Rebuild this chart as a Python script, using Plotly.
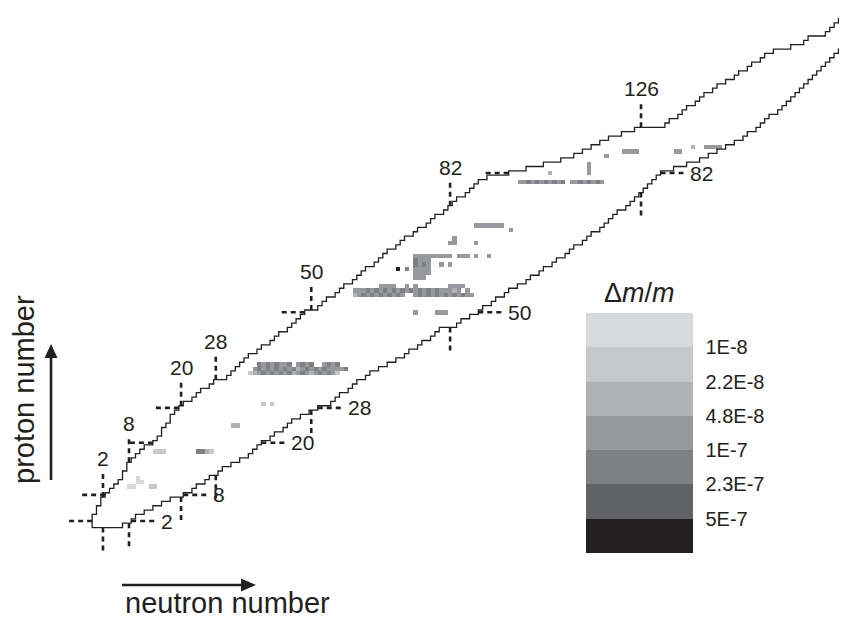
import numpy as np
import plotly.graph_objects as go

# ---------------- data ----------------
# proton-rich edge of the chart: lightest neutron number drawn for Z = 1..120
n_min = [0, 0, 0, 1, 1, 2, 2, 3, 4,
         5, 6, 7, 7, 8, 8, 9, 10, 11, 12,
         14, 15, 16, 16, 17, 18, 18, 19, 20, 21,
         23, 24, 25, 27, 28, 31, 32, 33, 34, 35,
         36, 38, 39, 41, 42, 43, 45, 46, 47, 48,
         49, 52, 53, 54, 56, 57, 58, 60, 61, 62,
         63, 65, 66, 67, 68, 70, 71, 72, 74, 75,
         77, 78, 79, 81, 82, 83, 84, 86, 87, 88,
         89, 91, 96, 100, 104, 108, 111, 113, 115, 117,
         119, 122, 125, 132, 133, 135, 136, 137, 139, 140,
         141, 143, 144, 146, 148, 149, 151, 152, 154, 155,
         157, 161, 164, 165, 169, 170, 171, 172, 173, 174, 175]
# neutron-rich edge of the chart: heaviest neutron number drawn for Z = 1..120
n_max = [6, 8, 9, 11, 13, 15, 17, 20, 22,
         23, 25, 26, 28, 29, 31, 33, 35, 36, 37,
         38, 40, 41, 43, 44, 45, 47, 49, 51, 54,
         55, 56, 58, 59, 60, 62, 63, 65, 67, 69,
         71, 72, 74, 75, 77, 78, 79, 83, 84, 86,
         88, 89, 91, 92, 94, 95, 97, 99, 100, 102,
         103, 105, 106, 108, 109, 110, 112, 113, 114, 116,
         117, 118, 119, 120, 122, 123, 124, 125, 126, 127,
         128, 129, 130, 133, 136, 139, 141, 143, 145, 147,
         149, 150, 152, 153, 154, 155, 157, 158, 159, 160,
         161, 162, 163, 164, 165, 166, 167, 168, 169, 170,
         171, 172, 173, 174, 175, 176, 177, 178, 179, 180, 181]
z_list = list(range(1, 1 + len(n_min)))

magic_z = [2, 8, 20, 28, 50, 82]
magic_n = [2, 8, 20, 28, 50, 82, 126]

# measured nuclides: runs of cells, band 1 (<1E-8) .. 7 (>5E-7), '.' = gap
run_z = [10, 11, 12, 10,
         18, 18, 24, 29,
         38, 37, 36,
         56, 55, 54,
         50, 50,
         63, 62, 61, 60, 59, 58, 61,
         66, 67, 66, 70, 69,
         80, 80, 82, 82, 83, 84, 86,
         87, 87, 88, 88]
run_n0 = [8, 10, 10, 13,
          14, 24, 32, 39,
          38, 37, 36,
          66, 60, 60,
          74, 79,
          74, 74, 74, 70, 74, 74, 80,
          82, 83, 88, 88, 96,
          98, 110, 105, 114, 114, 114, 118,
          122, 134, 138, 141]
run_bands = ["11", "11", "1", "22",
             "222", "5532", "33", "2.2",
             "54545445.4545..4545", "4545454545345454544445", "234545454534543454542",
             "4444..4.4.......4444", "4445454545454545454544434.4", "345454545454..45454545454544",
             "4", "444",
             "444444444.444.4..4", "5444", "5454", "7.5.4444", "4444", "444", "4.4",
             "44", "4", "4", "4444444", "4",
             "44545454545", "44545454", "3", "4", "4", "4", "4",
             "4444", "44", "3", "4444"]

band_labels = ["1E-8", "2.2E-8", "4.8E-8", "1E-7", "2.3E-7", "5E-7"]
band_colors = ["#d8d9db", "#c7c8ca", "#b0b2b4", "#98999c", "#7f8083", "#616264", "#231f20"]

INK = "#231f20"
FONT = "Liberation Sans, Arial, sans-serif"
W, H = 847, 619

# ---------------- cells ----------------
NN, NZ = 182, 122
grid = np.full((NZ, NN), np.nan)
for z, n0, s in zip(run_z, run_n0, run_bands):
    for i, ch in enumerate(s):
        if ch != ".":
            grid[z, n0 + i] = 8 - int(ch)   # light bands on top of the scale

scale = []
for k in range(7):
    c = band_colors[6 - k]
    scale.append([k / 7, c])
    scale.append([(k + 1) / 7, c])

fig = go.Figure()
fig.add_trace(go.Heatmap(
    z=grid, x0=0, dx=1, y0=0, dy=1, zmin=0.5, zmax=7.5,
    colorscale=scale, hoverinfo="skip",
    colorbar=dict(
        x=578 / W, xanchor="left", xpad=0,
        y=1 - 425 / H, yanchor="middle", ypad=0,
        len=240, lenmode="pixels", thickness=107, thicknessmode="pixels",
        outlinewidth=0, borderwidth=0,
        tickvals=[6.5, 5.5, 4.5, 3.5, 2.5, 1.5], ticktext=band_labels,
        ticks="outside", ticklen=9, tickcolor="rgba(0,0,0,0)",
        tickfont=dict(family=FONT, size=20, color=INK),
    ),
))

# ---------------- chart outline ----------------
ux, uy, lx, ly = [], [], [], []
for z, a, b in zip(z_list, n_min, n_max):
    ux += [a - 0.5, a - 0.5]
    uy += [z - 0.5, z + 0.5]
    lx += [b + 0.5, b + 0.5]
    ly += [z - 0.5, z + 0.5]
ox = ux[::-1] + lx
oy = uy[::-1] + ly
fig.add_trace(go.Scatter(x=ox, y=oy, mode="lines", hoverinfo="skip",
                         line=dict(color=INK, width=1.3), showlegend=False))

# ---------------- magic-number stubs ----------------
L = 6.2
dash = dict(color=INK, width=2.6, dash="5px,4px")
annots = []


def nmin_of(z):
    return n_min[z - 1]


def nmax_of(z):
    return n_max[z - 1]


for m in magic_z:
    xl = nmin_of(m) - 0.5
    xr = nmax_of(m) + 0.5
    fig.add_trace(go.Scatter(x=[xl, xl - L], y=[m, m], mode="lines", line=dash,
                             hoverinfo="skip", showlegend=False))
    fig.add_trace(go.Scatter(x=[xr, xr + L], y=[m, m], mode="lines", line=dash,
                             hoverinfo="skip", showlegend=False))
    annots.append(dict(x=xr + L, y=m, xref="x", yref="y", text=str(m), showarrow=False,
                       xanchor="left", yanchor="middle", xshift=1,
                       font=dict(family=FONT, size=21, color=INK)))

for m in magic_n:
    ztop = max(z for z, a in zip(z_list, n_min) if a <= m) + 0.5
    zbot = min(z for z, b in zip(z_list, n_max) if b >= m) - 0.5
    fig.add_trace(go.Scatter(x=[m, m], y=[ztop, ztop + L], mode="lines", line=dash,
                             hoverinfo="skip", showlegend=False))
    fig.add_trace(go.Scatter(x=[m, m], y=[zbot, zbot - L], mode="lines", line=dash,
                             hoverinfo="skip", showlegend=False))
    annots.append(dict(x=m, y=ztop + L, xref="x", yref="y", text=str(m), showarrow=False,
                       xanchor="center", yanchor="bottom", yshift=-2,
                       font=dict(family=FONT, size=21, color=INK)))

# ---------------- titles ----------------
annots.append(dict(x=631 / W, y=1 - 285 / H, xref="paper", yref="paper",
                   text="\u0394<i>m</i>/<i>m</i>", showarrow=False,
                   xanchor="center", yanchor="middle",
                   font=dict(family=FONT, size=27, color=INK)))
annots.append(dict(x=219 / W, y=1 - 612 / H, xref="paper", yref="paper",
                   text="neutron number", showarrow=False, borderpad=0,
                   xanchor="center", yanchor="bottom",
                   font=dict(family=FONT, size=29, color=INK)))
annots.append(dict(x=16 / W, y=1 - 382 / H, xref="paper", yref="paper",
                   text="proton number", showarrow=False, textangle=-90,
                   xanchor="center", yanchor="middle",
                   font=dict(family=FONT, size=29, color=INK)))


def px(x):
    return x / W


def py(y):
    return 1 - y / H


AY = 577  # horizontal arrow height
shapes = [
    dict(type="line", xref="paper", yref="paper", x0=px(43), y0=py(472), x1=px(43), y1=py(348),
         line=dict(color=INK, width=2.6)),
    dict(type="path", xref="paper", yref="paper",
         path=f"M{px(36.5)},{py(350)} L{px(49.5)},{py(350)} L{px(43)},{py(336)} Z",
         fillcolor=INK, line=dict(width=0)),
    dict(type="line", xref="paper", yref="paper", x0=px(114), y0=py(AY), x1=px(235), y1=py(AY),
         line=dict(color=INK, width=2.6)),
    dict(type="path", xref="paper", yref="paper",
         path=f"M{px(233)},{py(AY - 6.5)} L{px(233)},{py(AY + 6.5)} L{px(248)},{py(AY)} Z",
         fillcolor=INK, line=dict(width=0)),
]

x0 = -86.3 / 4.339
x1 = (W - 86.3) / 4.339
y0 = (521.7 - H) / 4.35
y1 = 521.7 / 4.35

fig.update_layout(
    width=W, height=H, margin=dict(l=0, r=0, t=0, b=0),
    paper_bgcolor="white", plot_bgcolor="white",
    xaxis=dict(range=[x0, x1], visible=False, showgrid=False, zeroline=False, fixedrange=True),
    yaxis=dict(range=[y0, y1], visible=False, showgrid=False, zeroline=False, fixedrange=True),
    annotations=annots, shapes=shapes, showlegend=False,
)

fig.write_html("out.html")
